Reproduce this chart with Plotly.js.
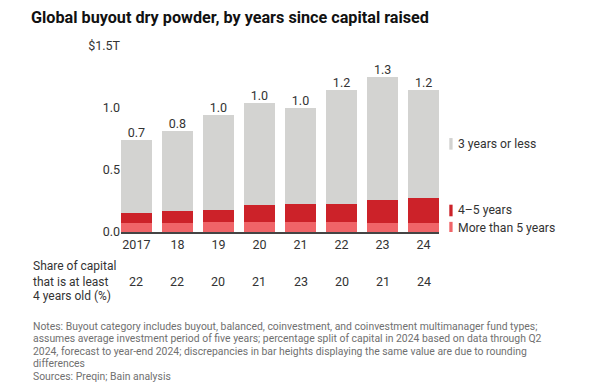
<!DOCTYPE html>
<html>
<head>
<meta charset="utf-8">
<script src="https://cdn.plot.ly/plotly-3.0.1.min.js"></script>
<style>html,body{margin:0;padding:0;background:#fff}#chart{width:602px;height:382px}</style>
</head>
<body>
<div id="chart"></div>
<script>
// ---- data ----
var years = ["2017", "18", "19", "20", "21", "22", "23", "24"];
var totals = [0.742, 0.815, 0.944, 1.043, 0.997, 1.142, 1.250, 1.145];
var moreThan5 = [0.070, 0.073, 0.078, 0.078, 0.081, 0.078, 0.073, 0.070];
var years4to5 = [0.086, 0.094, 0.102, 0.137, 0.147, 0.150, 0.182, 0.207];
var totalLabels = ["0.7", "0.8", "1.0", "1.0", "1.0", "1.2", "1.3", "1.2"];
var shareAtLeast4 = ["22", "22", "20", "21", "23", "20", "21", "24"];
var seriesNames = ["More than 5 years", "4\u20135 years", "3 years or less"];
var yTickVals = [0, 0.5, 1.0, 1.5];
var yTickText = ["0.0", "0.5", "1.0", "$1.5T"];
var titleText = "Global buyout dry powder, by years since capital raised";
var rowLabel = ["Share of capital", "that is at least", "4 years old (%)"];
var notes = [
  "Notes: Buyout category includes buyout, balanced, coinvestment, and coinvestment multimanager fund types;",
  "assumes average investment period of five years; percentage split of capital in 2024 based on data through Q2",
  "2024, forecast to year-end 2024; discrepancies in bar heights displaying the same value are due to rounding",
  "differences",
  "Sources: Preqin; Bain analysis"
];

var threeOrLess = totals.map(function (t, i) { return t - moreThan5[i] - years4to5[i]; });

var colors = ["#f06468", "#cc2229", "#d3d3d1"];
var FONT = "Roboto, 'Liberation Sans', sans-serif";
var TXT = "#333333";

var traces = [
  {type: "bar", x: years, y: moreThan5, name: seriesNames[0], marker: {color: colors[0]}, hoverinfo: "skip"},
  {type: "bar", x: years, y: years4to5, name: seriesNames[1], marker: {color: colors[1]}, hoverinfo: "skip"},
  {type: "bar", x: years, y: threeOrLess, name: seriesNames[2], marker: {color: colors[2]}, hoverinfo: "skip"},
  {type: "scatter", mode: "text", x: years, y: totals, text: totalLabels, textposition: "top center",
   textfont: {family: FONT, size: 12.5, color: TXT}, hoverinfo: "skip", cliponaxis: false}
];

var annotations = [];
var shapes = [];

// legend, aligned to last bar's segments
var last = years.length - 1;
var mids = [
  moreThan5[last] / 2,
  moreThan5[last] + years4to5[last] / 2,
  moreThan5[last] + years4to5[last] + threeOrLess[last] / 2
];
for (var k = 0; k < 3; k++) {
  shapes.push({type: "rect", xref: "paper", yref: "y", xsizemode: "pixel", ysizemode: "pixel",
    xanchor: 1, yanchor: mids[k], x0: 10.3, x1: 13.6, y0: -5.8, y1: 5.8,
    fillcolor: colors[k], line: {width: 0}});
  annotations.push({xref: "paper", yref: "y", x: 1, y: mids[k], xshift: 16.5, xanchor: "left", yanchor: "middle",
    text: seriesNames[k], showarrow: false, font: {family: FONT, size: 12.2, color: TXT}});
}

// share row (x by category index)
for (var i = 0; i < years.length; i++) {
  annotations.push({xref: "x", yref: "paper", x: i, y: 0, yshift: -49.7, xanchor: "center", yanchor: "middle",
    text: shareAtLeast4[i], showarrow: false, font: {family: FONT, size: 12.5, color: TXT}});
}
var rowY = [-34, -49.7, -63.5];
for (var j = 0; j < rowLabel.length; j++) {
  annotations.push({xref: "paper", yref: "paper", x: 0, y: 0, xshift: -89.8, yshift: rowY[j], xanchor: "left", yanchor: "middle",
    text: rowLabel[j], showarrow: false, font: {family: FONT, size: 12, color: TXT}});
}
// notes
for (var n = 0; n < notes.length; n++) {
  annotations.push({xref: "paper", yref: "paper", x: 0, y: 0, xshift: -89.8, yshift: -(326 - 232) - n * 12.5,
    xanchor: "left", yanchor: "middle", text: notes[n], showarrow: false,
    font: {family: FONT, size: 10.4, color: "#707070"}});
}

var layout = {
  width: 602, height: 382,
  margin: {l: 121, r: 163, t: 46, b: 150, pad: 0},
  paper_bgcolor: "#ffffff", plot_bgcolor: "#ffffff",
  barmode: "stack", bargap: 0.25, showlegend: false,
  font: {family: FONT, color: TXT},
  title: {text: "<b>" + titleText + "</b>", xref: "container", yref: "container", x: 31 / 602, xanchor: "left",
    y: 1 - 17 / 382, yanchor: "middle", font: {family: FONT, size: 16.2, color: "#111111"}},
  xaxis: {type: "category", range: [-0.375, 7.375], showgrid: false, zeroline: false,
    showline: true, linecolor: "#444444", linewidth: 1.5, ticks: "", tickfont: {family: FONT, size: 12.5, color: TXT},
    fixedrange: true},
  yaxis: {range: [0, 1.5], tickvals: yTickVals, ticktext: yTickText, showgrid: false, zeroline: false,
    showline: false, ticks: "", tickfont: {family: FONT, size: 12.5, color: TXT}, fixedrange: true},
  annotations: annotations,
  shapes: shapes
};

Plotly.newPlot("chart", traces, layout, {displayModeBar: false, staticPlot: true});
</script>
</body>
</html>
